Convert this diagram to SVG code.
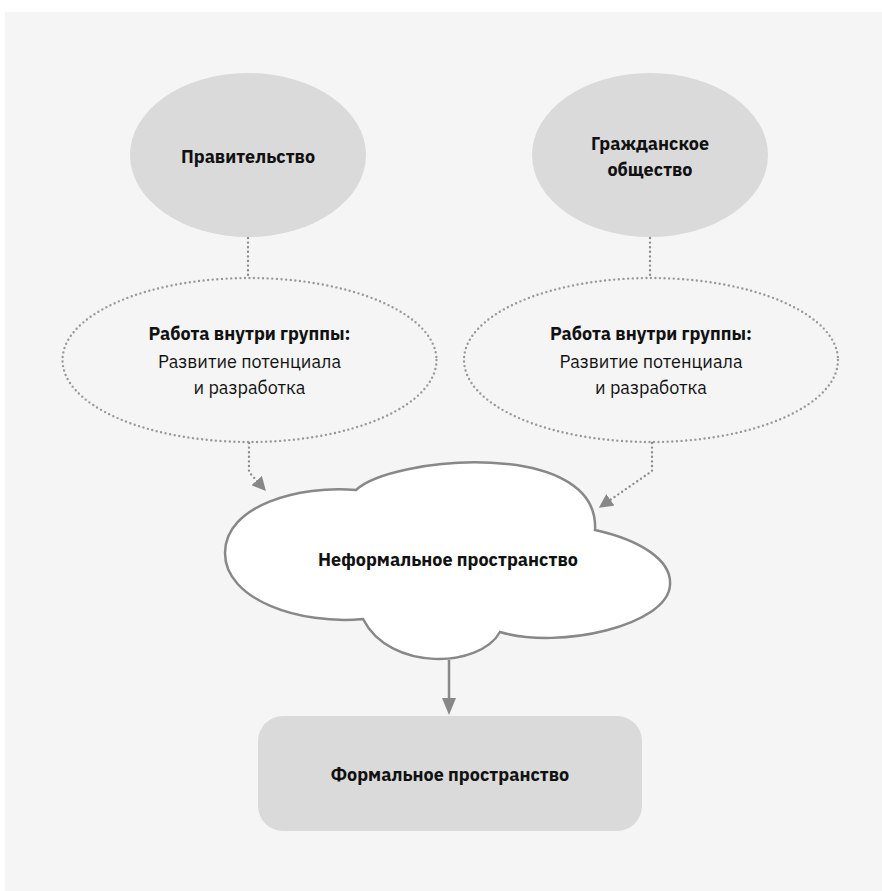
<svg xmlns="http://www.w3.org/2000/svg" width="882" height="891" viewBox="0 0 882 891">
<defs>
<style>
.t{font-family:"IBM Plex Sans","Noto Sans","Liberation Sans",sans-serif;font-size:18px;fill:#111;text-anchor:middle}
.b{font-weight:bold}
.solid{fill:#dadada;stroke:none}
.dot{fill:none;stroke:#999;stroke-width:2.4;stroke-dasharray:0 4.6;stroke-linecap:round}
.conn{fill:none;stroke:#8c8c8c;stroke-width:2.4;stroke-dasharray:0 4.6;stroke-linecap:round}
</style>
<marker id="ah" viewBox="0 0 10 10" refX="9" refY="5" markerWidth="14" markerHeight="14" markerUnits="userSpaceOnUse" orient="auto">
<path d="M0,0 L10,5 L0,10 z" fill="#888"/>
</marker>
</defs>
<rect x="5" y="12" width="877" height="879" fill="#f5f5f5"/>
<g id="connectors">
<path class="conn" d="M248,238 V276"/>
<path class="conn" d="M650,238 V276"/>
<path class="conn" d="M249,443 V472 L265,490" marker-end="url(#ah)"/>
<path class="conn" d="M652,443 V471 L600,507" marker-end="url(#ah)"/>
<path d="M449,660 V701" stroke="#888" stroke-width="2.5" fill="none"/>
<path d="M442,698 L449,715 L456,698 z" fill="#888"/>
</g>
<g id="gov">
<ellipse class="solid" cx="248" cy="155" rx="118" ry="82"/>
<text class="t b" x="248" y="163">Правительство</text>
</g>
<g id="civil">
<ellipse class="solid" cx="650" cy="155" rx="118" ry="82"/>
<text class="t b" x="650" y="150">Гражданское</text>
<text class="t b" x="650" y="176">общество</text>
</g>
<g id="work-left">
<ellipse class="dot" cx="249.5" cy="360" rx="187" ry="82"/>
<text class="t b" x="249.5" y="340">Работа внутри группы:</text>
<text class="t" x="249.5" y="368">Развитие потенциала</text>
<text class="t" x="249.5" y="394">и разработка</text>
</g>
<g id="work-right">
<ellipse class="dot" cx="651" cy="360" rx="187" ry="82"/>
<text class="t b" x="651" y="340">Работа внутри группы:</text>
<text class="t" x="651" y="368">Развитие потенциала</text>
<text class="t" x="651" y="394">и разработка</text>
</g>
<g id="informal">
<path d="M356,490 C392,456 600,438 595,530 C640,540 672,560 670,585 C668,625 560,650 500,632 C480,668 390,672 363,619 C300,625 225,600 225,553 C225,505 300,485 356,490 Z" fill="#fff" stroke="#888" stroke-width="2.5" stroke-linejoin="miter"/>
<text class="t b" x="448" y="566">Неформальное пространство</text>
</g>
<g id="formal">
<rect class="solid" x="258" y="716" width="384" height="115" rx="25"/>
<text class="t b" x="450" y="781">Формальное пространство</text>
</g>
</svg>
